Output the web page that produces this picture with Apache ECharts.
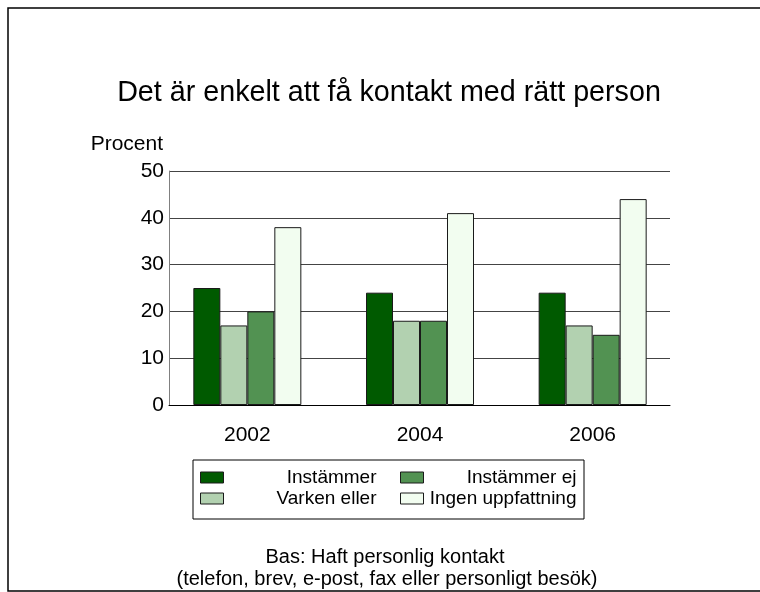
<!DOCTYPE html>
<html>
<head>
<meta charset="utf-8">
<script src="https://cdn.jsdelivr.net/npm/echarts@6/dist/echarts.min.js"></script>
<style>
  html, body { margin: 0; padding: 0; background: #fff; }
  #chart1 { width: 760px; height: 592px; }
</style>
</head>
<body>
<div id="chart1"></div>
<script>
// data
var years = ['2002', '2004', '2006'];
var instammer = [25, 24, 24];
var varkenEller = [17, 18, 17];
var instammerEj = [20, 18, 15];
var ingenUppfattning = [38, 41, 44];
var yTicks = [0, 10, 20, 30, 40, 50];

var font = '"Liberation Sans", Arial, sans-serif';
var myChart = echarts.init(document.getElementById('chart1'));

function barSeries(name, data, color) {
    return {
        name: name,
        type: 'bar',
        xAxisIndex: 0,
        yAxisIndex: 0,
        data: data,
        barWidth: 27,
        barGap: '0%',
        itemStyle: { color: color, borderColor: '#1a1a1a', borderWidth: 1 }
    };
}

var legendText = {
    fontFamily: font,
    fontSize: 19,
    color: '#000',
    rich: { a: { width: 148, align: 'right', fontFamily: font, fontSize: 19, lineHeight: 19 } }
};

var option = {
    backgroundColor: '#fff',
    animation: false,
    title: {
        text: 'Det är enkelt att få kontakt med rätt person',
        left: 384,
        textAlign: 'center',
        top: 74,
        textStyle: { fontFamily: font, fontSize: 28.7, fontWeight: 'normal', color: '#000' }
    },
    legend: [
        {
            data: ['Instämmer', 'Varken eller'],
            orient: 'vertical',
            left: 200, top: 468, padding: 0, itemGap: 2,
            itemWidth: 23, itemHeight: 11,
            icon: 'rect',
            itemStyle: { borderColor: '#1a1a1a', borderWidth: 1 },
            formatter: '{a|{name}}',
            textStyle: legendText
        },
        {
            data: ['Instämmer ej', 'Ingen uppfattning'],
            orient: 'vertical',
            left: 400, top: 468, padding: 0, itemGap: 2,
            itemWidth: 23, itemHeight: 11,
            icon: 'rect',
            itemStyle: { borderColor: '#1a1a1a', borderWidth: 1 },
            formatter: '{a|{name}}',
            textStyle: legendText
        }
    ],
    grid: [
        // bars
        { left: 161, right: 81, top: 171, bottom: 187 },
        // axis lines and gridlines
        { left: 169, right: 90, top: 171, bottom: 187 }
    ],
    xAxis: [
        {
            type: 'category', gridIndex: 0, data: years,
            axisLine: { show: false }, axisTick: { show: false },
            axisLabel: { margin: 20, fontFamily: font, fontSize: 21, color: '#000' }
        },
        {
            type: 'category', gridIndex: 1, data: years,
            axisLine: { show: true, lineStyle: { color: '#000', width: 1 } },
            axisTick: { show: false }, axisLabel: { show: false }
        }
    ],
    yAxis: [
        {
            type: 'value', gridIndex: 0, min: 0, max: 50, interval: 10,
            show: false
        },
        {
            type: 'value', gridIndex: 1, min: 0, max: 50, interval: 10,
            name: 'Procent', nameLocation: 'end', nameGap: 27,
            nameTextStyle: { fontFamily: font, fontSize: 21, color: '#000', align: 'right', verticalAlign: 'middle', padding: [0, 6, 0, 0] },
            axisLine: { show: true, lineStyle: { color: '#808080', width: 1 } },
            axisTick: { show: false },
            splitLine: { show: true, lineStyle: { color: '#444', width: 1 } },
            axisLabel: {
                margin: 5, fontFamily: font, fontSize: 21, color: '#000',
                formatter: function (v) { return yTicks.indexOf(v) >= 0 ? String(v) : ''; }
            }
        }
    ],
    graphic: [
        { type: 'rect', shape: { x: 8, y: 8, width: 800, height: 583 }, style: { fill: 'none', stroke: '#000', lineWidth: 1.5 }, z: 100 },
        { type: 'rect', shape: { x: 193, y: 460, width: 391, height: 59 }, style: { fill: 'none', stroke: '#000', lineWidth: 1 }, z: 100 },
        { type: 'text', x: 385, y: 557, style: { text: 'Bas: Haft personlig kontakt', font: '20px ' + font, fill: '#000', textAlign: 'center', textVerticalAlign: 'middle' } },
        { type: 'text', x: 387, y: 579, style: { text: '(telefon, brev, e-post, fax eller personligt besök)', font: '20px ' + font, fill: '#000', textAlign: 'center', textVerticalAlign: 'middle' } }
    ],
    series: [
        barSeries('Instämmer', instammer, '#005a00'),
        barSeries('Varken eller', varkenEller, '#b2d1b0'),
        barSeries('Instämmer ej', instammerEj, '#529252'),
        barSeries('Ingen uppfattning', ingenUppfattning, '#f2fdf0')
    ]
};

myChart.setOption(option);
</script>
</body>
</html>
